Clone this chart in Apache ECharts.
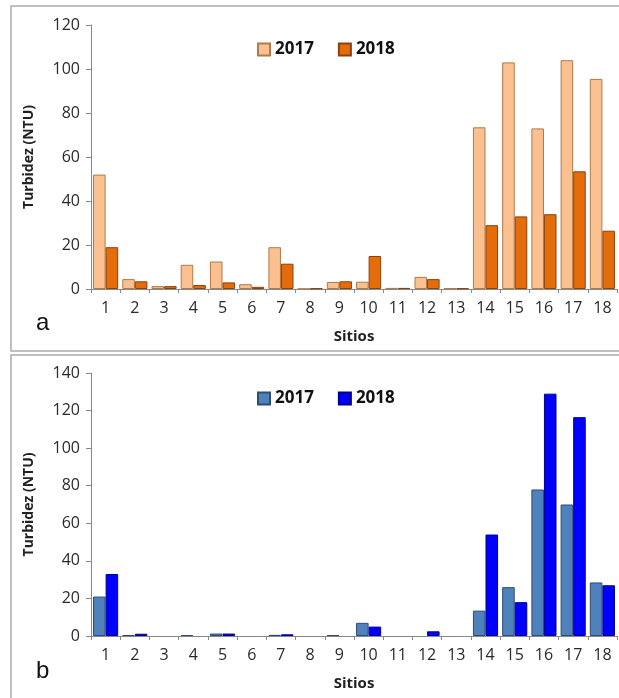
<!DOCTYPE html>
<html>
<head>
<meta charset="utf-8">
<script src="https://cdn.jsdelivr.net/npm/echarts@6/dist/echarts.min.js"></script>
<style>
  html, body { margin: 0; padding: 0; background: #fff; }
  #chart { width: 619px; height: 698px; }
</style>
</head>
<body>
<div id="chart"></div>
<script>
let myChart = echarts.init(document.getElementById("chart"));

// sites 1..18
const sitios = ["1","2","3","4","5","6","7","8","9","10","11","12","13","14","15","16","17","18"];

// panel a
const a2017 = [52, 4.5, 1.3, 11, 12.5, 2.2, 19, 0.1, 3.2, 3.3, 0.5, 5.5, 0.3, 73.5, 103, 73, 104, 95.5];
const a2018 = [19, 3.5, 1.3, 1.8, 3, 1, 11.5, 0.3, 3.5, 15, 0.5, 4.5, 0.3, 29, 33, 34, 53.5, 26.5];

// panel b
const b2017 = [21, 0.5, 0, 0.5, 1.3, 0, 0.6, 0, 0.5, 7, 0, 0, 0, 13.5, 26, 78, 70, 28.5];
const b2018 = [33, 1.2, 0, 0, 1.3, 0, 0.9, 0, 0, 5, 0, 2.5, 0, 54, 18, 129, 116.5, 27];

const font = "'Open Sans', 'Noto Sans', sans-serif";

// shared axis styling
function xAx(idx) {
  return {
    type: "category",
    gridIndex: idx,
    data: sitios,
    name: "Sitios",
    nameLocation: "middle",
    nameGap: 40,
    nameTextStyle: { fontFamily: font, fontSize: 15, fontWeight: "bold", color: "#222" },
    axisLine: { lineStyle: { color: "#888" } },
    axisTick: { show: true, length: 4, lineStyle: { color: "#888" } },
    axisLabel: { fontFamily: font, fontSize: 16, color: "#2a2a2a", margin: 11, interval: 0 },
  };
}
function yAx(idx, max) {
  return {
    type: "value",
    gridIndex: idx,
    min: 0,
    max: max,
    interval: 20,
    name: "Turbidez (NTU)",
    nameLocation: "middle",
    nameGap: 55,
    nameTextStyle: { fontFamily: font, fontSize: 14, fontWeight: "bold", color: "#222" },
    axisLine: { show: true, lineStyle: { color: "#888" } },
    axisTick: { show: true, length: 5, lineStyle: { color: "#888" } },
    axisLabel: { fontFamily: font, fontSize: 16, color: "#2a2a2a", margin: 11 },
    splitLine: { show: false },
  };
}
function bar(name, idx, data, color, border) {
  return {
    name: name,
    type: "bar",
    xAxisIndex: idx,
    yAxisIndex: idx,
    // zero-valued bars get no outline so nothing is drawn for them
    data: data.map((v) => (v === 0 ? { value: 0, itemStyle: { borderWidth: 0 } } : v)),
    barGap: "0%",
    barCategoryGap: "14%",
    itemStyle: { color: color, borderColor: border, borderWidth: 1 },
  };
}
function legendAt(top, names) {
  return {
    top: top,
    left: 252,
    data: names,
    itemWidth: 12,
    itemHeight: 12,
    itemGap: 24,
    icon: "rect",
    formatter: (n) => n.slice(2),
    textStyle: { fontFamily: font, fontSize: 17, fontWeight: "bold", color: "#111" },
  };
}

myChart.setOption({
  animation: false,
  grid: [
    { left: 91, right: 2, top: 25, height: 264 },
    { left: 91, right: 2, top: 373, height: 263 },
  ],
  legend: [legendAt(36, ["a-2017", "a-2018"]), legendAt(385, ["b-2017", "b-2018"])],
  xAxis: [xAx(0), xAx(1)],
  yAxis: [yAx(0, 120), yAx(1, 140)],
  series: [
    bar("a-2017", 0, a2017, "#fac090", "#b07a4a"),
    bar("a-2018", 0, a2018, "#e46c0a", "#8a4310"),
    bar("b-2017", 1, b2017, "#4f81bd", "#2c4d75"),
    bar("b-2018", 1, b2018, "#0000ff", "#00008b"),
  ],
  graphic: [
    { type: "rect", shape: { x: 11, y: 6, width: 620, height: 345 }, style: { fill: "none", stroke: "#aaa", lineWidth: 1.5 } },
    { type: "rect", shape: { x: 11, y: 355, width: 620, height: 350 }, style: { fill: "none", stroke: "#aaa", lineWidth: 1.5 } },
    { type: "text", left: 36, top: 311, style: { text: "a", font: "24px 'Liberation Sans', Arial, sans-serif", fill: "#111" } },
    { type: "text", left: 36, top: 659, style: { text: "b", font: "24px 'Liberation Sans', Arial, sans-serif", fill: "#111" } },
  ],
});
</script>
</body>
</html>
